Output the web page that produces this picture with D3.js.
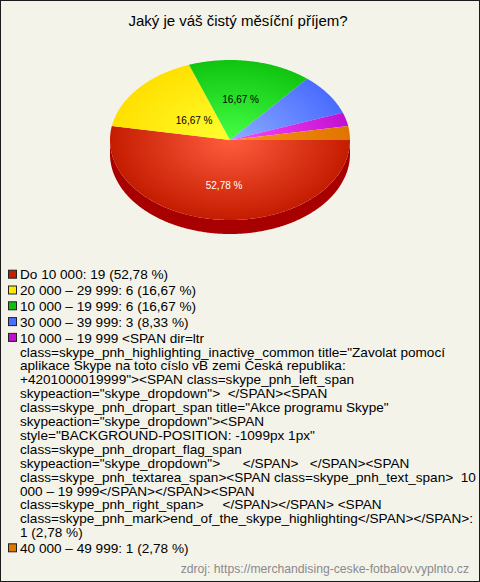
<!DOCTYPE html>
<html><head><meta charset="utf-8">
<script src="https://cdn.jsdelivr.net/npm/d3@7/dist/d3.min.js"></script>
<style>
html,body{margin:0;padding:0;background:#f4f3ea;}
svg{display:block;}
text{font-family:"Liberation Sans",Arial,sans-serif;}
</style></head>
<body>
<script>
const title = "Jaký je váš čistý měsíční příjem?";
const source = "zdroj: https://merchandising-ceske-fotbalov.vyplnto.cz";
const categories = [
  "Do 10 000",
  "20 000 – 29 999",
  "10 000 – 19 999",
  "30 000 – 39 999",
  "10 000 – 19 999 <SPAN dir=ltr class=skype_pnh_highlighting_inactive_common title=\"Zavolat pomocí aplikace Skype na toto císlo vB zemi Česká republika: +4201000019999\"><SPAN class=skype_pnh_left_span skypeaction=\"skype_dropdown\">  </SPAN><SPAN class=skype_pnh_dropart_span title=\"Akce programu Skype\" skypeaction=\"skype_dropdown\"><SPAN style=\"BACKGROUND-POSITION: -1099px 1px\" class=skype_pnh_dropart_flag_span skypeaction=\"skype_dropdown\">      </SPAN>   </SPAN><SPAN class=skype_pnh_textarea_span><SPAN class=skype_pnh_text_span>  10 000 – 19 999</SPAN></SPAN><SPAN class=skype_pnh_right_span>     </SPAN></SPAN> <SPAN class=skype_pnh_mark>end_of_the_skype_highlighting</SPAN></SPAN>",
  "40 000 – 49 999"
];
const counts = [19, 6, 6, 3, 1, 1];
// legend line breaks of the long entry as in the reference
const wrappedLegend = {
  4: [
    "10 000 – 19 999 <SPAN dir=ltr",
    "class=skype_pnh_highlighting_inactive_common title=\"Zavolat pomocí",
    "aplikace Skype na toto císlo vB zemi Česká republika:",
    "+4201000019999\"><SPAN class=skype_pnh_left_span",
    "skypeaction=\"skype_dropdown\">  </SPAN><SPAN",
    "class=skype_pnh_dropart_span title=\"Akce programu Skype\"",
    "skypeaction=\"skype_dropdown\"><SPAN",
    "style=\"BACKGROUND-POSITION: -1099px 1px\"",
    "class=skype_pnh_dropart_flag_span",
    "skypeaction=\"skype_dropdown\">      </SPAN>   </SPAN><SPAN",
    "class=skype_pnh_textarea_span><SPAN class=skype_pnh_text_span>  10",
    "000 – 19 999</SPAN></SPAN><SPAN",
    "class=skype_pnh_right_span>     </SPAN></SPAN> <SPAN",
    "class=skype_pnh_mark>end_of_the_skype_highlighting</SPAN></SPAN>:",
    "1 (2,78 %)"
  ]
};

const colors = {
  center: ["#ff5c3e", "#ffff30", "#44ff44", "#8cacff", "#ff48ff", "#f89414"],
  edge:   ["#c41c00", "#ffe000", "#10c410", "#4a6cff", "#c010d0", "#e07400"],
  side:   ["#a80000", "#c8b000", "#089008", "#2a48c0", "#9000a0", "#b05800"],
  legend: ["#c02000", "#ffe800", "#10c010", "#4a70ff", "#c010d0", "#e07800"]
};

const W = 480, H = 582;
const cx = 230, cy = 140, rx = 120, ry = 80, depth = 14;
const labelR = [0.565, 0.39, 0.51];

const total = d3.sum(counts);
const pctText = v => (v / total * 100).toFixed(2).replace(".", ",") + " %";

const svg = d3.select("body").append("svg").attr("width", W).attr("height", H);
svg.append("rect").attr("x", 0.5).attr("y", 0.5).attr("width", W - 1).attr("height", H - 1)
  .attr("fill", "#f4f3ea").attr("stroke", "#1a1a1a");

svg.append("text").attr("x", 238).attr("y", 26).attr("text-anchor", "middle")
  .attr("font-size", 15).attr("fill", "#000").text(title);

const defs = svg.append("defs");
counts.forEach((c, i) => {
  const g = defs.append("radialGradient").attr("id", "g" + i)
    .attr("gradientUnits", "userSpaceOnUse")
    .attr("cx", cx).attr("cy", cy).attr("r", rx)
    .attr("gradientTransform", `translate(${cx},${cy}) scale(1,${ry / rx}) translate(${-cx},${-cy})`);
  g.append("stop").attr("offset", "0%").attr("stop-color", colors.center[i]);
  g.append("stop").attr("offset", "100%").attr("stop-color", colors.edge[i]);
});

const pie = d3.pie().sort(null).value(d => d)
  .startAngle(Math.PI / 2).endAngle(Math.PI / 2 + 2 * Math.PI);
const arcs = pie(counts);

const P = (a, dy = 0) => [cx + rx * Math.sin(a), cy - ry * Math.cos(a) + dy];
const samples = (a0, a1, dy) => {
  const n = Math.max(2, Math.ceil((a1 - a0) / 0.01));
  return d3.range(n + 1).map(k => P(a0 + (a1 - a0) * k / n, dy));
};
const line = d3.line();

// side walls (front half only)
const gSide = svg.append("g");
arcs.forEach((d, i) => {
  const a0 = Math.max(d.startAngle, Math.PI / 2), a1 = Math.min(d.endAngle, 3 * Math.PI / 2);
  if (a1 <= a0) return;
  const top = samples(a0, a1, 0), bot = samples(a0, a1, depth).reverse();
  gSide.append("path").attr("d", line(top.concat(bot)) + "Z").attr("fill", colors.side[i]);
});

// top faces
const gTop = svg.append("g");
arcs.forEach((d, i) => {
  const pts = [[cx, cy]].concat(samples(d.startAngle, d.endAngle, 0));
  gTop.append("path").attr("d", line(pts) + "Z").attr("fill", `url(#g${i})`);
});

// labels
arcs.forEach((d, i) => {
  if (d.value / total < 0.1) return;
  const mid = (d.startAngle + d.endAngle) / 2;
  const f = labelR[i];
  svg.append("text")
    .attr("x", cx + rx * f * Math.sin(mid))
    .attr("y", cy - ry * f * Math.cos(mid) + 3.6)
    .attr("text-anchor", "middle").attr("font-size", 10)
    .attr("fill", i === 0 ? "#ffffff" : "#000000")
    .text(pctText(d.value));
});

// legend
const lh = 13.9, gap = 1.9;
let yc = 274.7;
const gLeg = svg.append("g");
categories.forEach((cat, i) => {
  const lines = wrappedLegend[i] || [`${cat}: ${counts[i]} (${pctText(counts[i])})`];
  gLeg.append("rect").attr("x", 8.5).attr("y", yc - 4.5).attr("width", 8).attr("height", 8)
    .attr("fill", colors.legend[i]).attr("stroke", "#222").attr("stroke-width", 1);
  lines.forEach((ln, k) => {
    gLeg.append("text").attr("x", 20).attr("y", yc + k * lh + 4.7)
      .attr("font-size", 13.6).attr("fill", "#000").style("white-space", "pre").text(ln);
  });
  yc += lines.length * lh + gap;
});

svg.append("text").attr("x", 469).attr("y", 573).attr("text-anchor", "end")
  .attr("font-size", 12.2).attr("fill", "#8a8a8a").text(source);
</script>
</body></html>
